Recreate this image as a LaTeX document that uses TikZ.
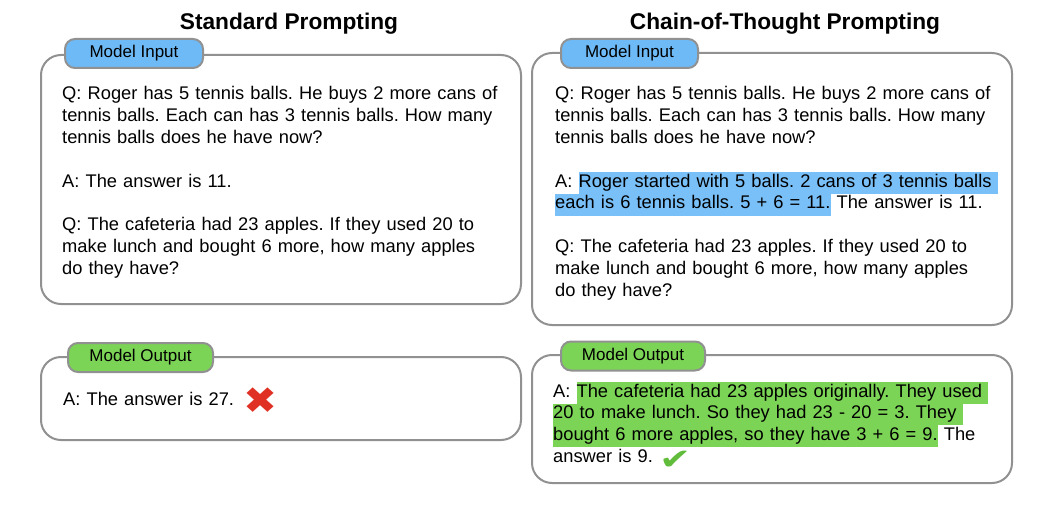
\documentclass[tikz,border=0pt]{standalone}
\usepackage{fontspec}
\setmainfont{Liberation Sans}
\newfontfamily\symfont{DejaVu Sans}
\usepackage{graphicx}
\usepackage{tikz}
\usetikzlibrary{positioning}

\definecolor{boxgray}{RGB}{145,145,145}
\definecolor{tabblue}{RGB}{110,186,246}
\definecolor{hlblue}{RGB}{122,192,248}
\definecolor{tabgreen}{RGB}{124,212,86}
\definecolor{hlgreen}{RGB}{124,212,86}
\definecolor{crossred}{RGB}{224,48,36}
\definecolor{tickgreen}{RGB}{96,188,58}

\newcommand{\hlb}[1]{{\setlength{\fboxsep}{0pt}\colorbox{hlblue}{\strut #1}}}
\newcommand{\hlg}[1]{{\setlength{\fboxsep}{0pt}\colorbox{hlgreen}{\strut #1}}}
\newcommand{\crossmark}{\smash{\raisebox{-8pt}{\scalebox{1.27}[1.15]{\symfont\color{crossred}\fontsize{32}{32}\selectfont ✖}}}}
\newcommand{\tickmark}{\smash{\raisebox{-7pt}{\scalebox{1.42}[1.08]{\symfont\color{tickgreen}\fontsize{27}{27}\selectfont ✔}}}}

\begin{document}
\frenchspacing
\begin{tikzpicture}[x=1pt, y=-1pt,
  panel/.style={draw=boxgray, line width=2pt, rounded corners=20pt, minimum width=480pt},
  tab/.style={draw=boxgray, line width=2pt, rounded corners=10pt, minimum height=29pt, inner sep=0pt, font=\fontsize{17}{17}\selectfont},
  title/.style={anchor=base, font=\bfseries\fontsize{22.7}{26}\selectfont},
  body/.style={anchor=base west, inner sep=0pt, text width=460pt, align=left, font=\frenchspacing\fontsize{18.3}{21.8}\selectfont}]
\useasboundingbox (0,0) rectangle (1042,516);

\node [title] (std) at (289,30) {Standard Prompting};
\node [title] (cot) at (785,30) {Chain-of-Thought Prompting};

\node [panel, minimum height=249pt] (sin) at (281,179.5) {};
\node [panel, minimum height=83pt] (sout) at (281,398.5) {};
\node [panel, minimum height=272pt] (cin) at (772,189) {};
\node [panel, minimum height=128pt] (cout) at (772,419) {};

\node [tab, fill=tabblue, minimum width=138pt] (sintab) at (134,53.5) {Model Input};
\node [tab, fill=tabgreen, minimum width=145pt] (souttab) at (140.5,357.5) {Model Output};
\node [tab, fill=tabblue, minimum width=137pt] (cintab) at (629.5,53.5) {Model Input};
\node [tab, fill=tabgreen, minimum width=144pt] (couttab) at (633,356) {Model Output};

\node [body] (sq) at (62,100) {Q: Roger has 5 tennis balls. He buys 2 more cans of\\
  tennis balls. Each can has 3 tennis balls. How many\\
  tennis balls does he have now?\\[21.8pt]
  A: The answer is 11.\\[21.8pt]
  Q: The cafeteria had 23 apples. If they used 20 to\\
  make lunch and bought 6 more, how many apples\\
  do they have?};
\node [body] (sa) at (63,405) {A: The answer is 27.\hspace{9pt}\crossmark};

\node [body] (cq) at (555,100) {Q: Roger has 5 tennis balls. He buys 2 more cans of\\
  tennis balls. Each can has 3 tennis balls. How many\\
  tennis balls does he have now?\\[21.8pt]
  A: \hlb{Roger started with 5 balls. 2 cans of 3 tennis balls }\\
  \hlb{each is 6 tennis balls. 5 + 6 = 11.} The answer is 11.\\[21.8pt]
  Q: The cafeteria had 23 apples. If they used 20 to\\
  make lunch and bought 6 more, how many apples\\
  do they have?};
\node [body] (ca) at (553,397) {A: \hlg{The cafeteria had 23 apples originally. They used }\\
  \hlg{20 to make lunch. So they had 23 - 20 = 3. They }\\
  \hlg{bought 6 more apples, so they have 3 + 6 = 9.} The\\
  answer is 9.\hspace{7pt}\tickmark};
\end{tikzpicture}
\end{document}
